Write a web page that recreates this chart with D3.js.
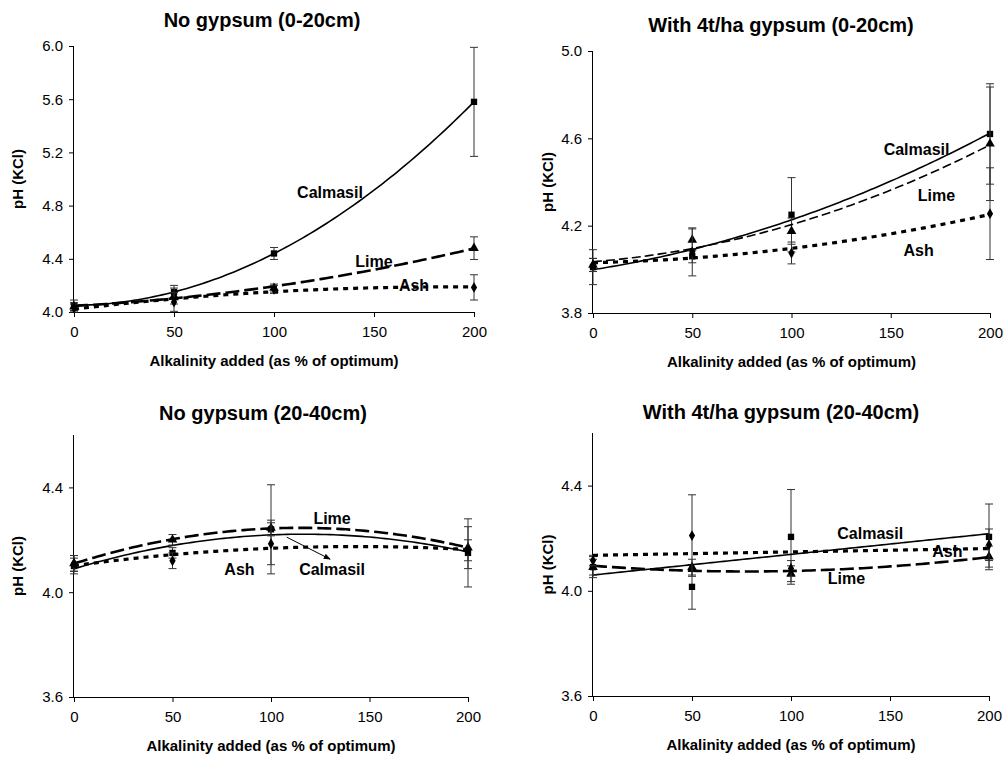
<!DOCTYPE html>
<html>
<head>
<meta charset="utf-8">
<script src="https://cdn.jsdelivr.net/npm/d3@7"></script>
<style>
  body { margin: 0; background: #fff; }
  svg { display: block; font-family: "Liberation Sans", Arial, sans-serif; }
  .tick text { font-size: 15px; fill: #000; }
  .title { font-size: 20px; font-weight: bold; }
  .axis-label { font-size: 15px; font-weight: bold; }
  .note { font-size: 16px; font-weight: bold; }
</style>
</head>
<body>
<svg id="chart"></svg>
<script>
const width = 1006;
const height = 760;

// x positions (alkalinity added, % of optimum)
const xVals = [0, 50, 100, 200];
const xTicks = [0, 50, 100, 150, 200];
const seriesNames = ["Calmasil", "Lime", "Ash"];

const titles = [
    "No gypsum (0-20cm)",
    "With 4t/ha gypsum (0-20cm)",
    "No gypsum (20-40cm)",
    "With 4t/ha gypsum (20-40cm)"
];

// panel 1: no gypsum, 0-20cm
const calmasil1 = [4.05, 4.15, 4.44, 5.58];
const calmasilErr1 = [0.04, 0.05, 0.045, 0.41];
const lime1 = [4.04, 4.12, 4.18, 4.48];
const limeErr1 = [0.03, 0.06, 0.03, 0.085];
const ash1 = [4.03, 4.075, 4.17, 4.185];
const ashErr1 = [0.03, 0.07, 0.03, 0.095];

// panel 2: 4t/ha gypsum, 0-20cm
const calmasil2 = [4.01, 4.06, 4.25, 4.62];
const calmasilErr2 = [0.08, 0.03, 0.17, 0.23];
const lime2 = [4.02, 4.135, 4.175, 4.575];
const limeErr2 = [0.03, 0.05, 0.06, 0.26];
const ash2 = [4.02, 4.08, 4.075, 4.255];
const ashErr2 = [0.03, 0.11, 0.05, 0.21];

// panel 3: no gypsum, 20-40cm
const calmasil3 = [4.10, 4.15, 4.24, 4.15];
const calmasilErr3 = [0.03, 0.02, 0.17, 0.13];
const lime3 = [4.11, 4.20, 4.245, 4.17];
const limeErr3 = [0.03, 0.02, 0.03, 0.08];
const ash3 = [4.11, 4.12, 4.185, 4.16];
const ashErr3 = [0.03, 0.03, 0.08, 0.04];

// panel 4: 4t/ha gypsum, 20-40cm
const calmasil4 = [4.09, 4.015, 4.205, 4.205];
const calmasilErr4 = [0.04, 0.085, 0.18, 0.125];
const lime4 = [4.09, 4.09, 4.065, 4.13];
const limeErr4 = [0.03, 0.03, 0.03, 0.04];
const ash4 = [4.115, 4.21, 4.085, 4.175];
const ashErr4 = [0.02, 0.155, 0.03, 0.06];

const yDomains = [[4.0, 6.0], [3.8, 5.0], [3.6, 4.6], [3.6, 4.6]];
const yTicks = [
    [4.0, 4.4, 4.8, 5.2, 5.6, 6.0],
    [3.8, 4.2, 4.6, 5.0],
    [3.6, 4.0, 4.4],
    [3.6, 4.0, 4.4]
];
// trend line order for Calmasil, Lime, Ash
const fitOrders = [[2, 2, 2], [2, 2, 2], [2, 2, 2], [1, 2, 1]];

// label positions, in data units: [series, x, y]
const notes = [
    [["Calmasil", 128, 4.9], ["Lime", 150, 4.38], ["Ash", 170, 4.2]],
    [["Calmasil", 163, 4.55], ["Lime", 173, 4.34], ["Ash", 164, 4.085]],
    [["Lime", 131, 4.28], ["Ash", 84, 4.088], ["Calmasil", 131, 4.088]],
    [["Calmasil", 140, 4.217], ["Ash", 179, 4.15], ["Lime", 128, 4.046]]
];

const panelData = [
    [calmasil1, lime1, ash1, calmasilErr1, limeErr1, ashErr1],
    [calmasil2, lime2, ash2, calmasilErr2, limeErr2, ashErr2],
    [calmasil3, lime3, ash3, calmasilErr3, limeErr3, ashErr3],
    [calmasil4, lime4, ash4, calmasilErr4, limeErr4, ashErr4]
];

// plot rectangles [left, right, top, bottom] and text anchors
const frames = [
    [74, 474, 46, 312],
    [593, 990, 51, 313],
    [74, 468, 435, 697],
    [593, 989, 433, 696]
];
const titleX = [262, 781, 263, 781];
const titleY = [27, 32, 420, 419];
const yLabelX = [18, 548, 18, 548];

const svg = d3.select("#chart")
    .attr("width", width)
    .attr("height", height);

svg.append("defs").append("marker")
    .attr("id", "arrow")
    .attr("viewBox", "0 0 10 10")
    .attr("refX", 9)
    .attr("refY", 5)
    .attr("markerWidth", 7)
    .attr("markerHeight", 7)
    .attr("orient", "auto")
    .append("path")
    .attr("d", "M0,1 L10,5 L0,9 Z")
    .attr("fill", "#000");

// least squares polynomial fit, returns coefficients c0..cn
function polyfit(xs, ys, order) {
    const n = order + 1;
    const A = d3.range(n).map(() => new Array(n + 1).fill(0));
    xs.forEach((x, k) => {
        for (let i = 0; i < n; i++) {
            for (let j = 0; j < n; j++) A[i][j] += Math.pow(x, i + j);
            A[i][n] += Math.pow(x, i) * ys[k];
        }
    });
    for (let i = 0; i < n; i++) {
        let p = i;
        for (let r = i + 1; r < n; r++) if (Math.abs(A[r][i]) > Math.abs(A[p][i])) p = r;
        [A[i], A[p]] = [A[p], A[i]];
        for (let r = 0; r < n; r++) {
            if (r === i) continue;
            const f = A[r][i] / A[i][i];
            for (let c = i; c <= n; c++) A[r][c] -= f * A[i][c];
        }
    }
    return d3.range(n).map(i => A[i][n] / A[i][i]);
}

const lineStyles = {
    Calmasil: { dash: null, width: 1.6 },
    Lime: { dash: "14,5", width: 2.6 },
    Ash: { dash: "5,5", width: 3.2 }
};

const symbols = {
    Calmasil: d3.symbol().type(d3.symbolSquare).size(40),
    Lime: d3.symbol().type(d3.symbolTriangle).size(40),
    Ash: d3.symbol().type(d3.symbolDiamond).size(34)
};

panelData.forEach((pd, p) => {
    const [left, right, top, bottom] = frames[p];
    const x = d3.scaleLinear().domain([0, 200]).range([left, right]);
    const y = d3.scaleLinear().domain(yDomains[p]).range([bottom, top]);
    const g = svg.append("g");

    g.append("text")
        .attr("class", "title")
        .attr("x", titleX[p])
        .attr("y", titleY[p])
        .attr("text-anchor", "middle")
        .text(titles[p]);

    g.append("g")
        .attr("transform", `translate(0,${bottom})`)
        .call(d3.axisBottom(x).tickValues(xTicks).tickSize(5).tickPadding(9))
        .call(a => a.select(".domain").attr("stroke", "#000"));

    g.append("g")
        .attr("transform", `translate(${left},0)`)
        .call(d3.axisLeft(y).tickValues(yTicks[p]).tickFormat(d3.format(".1f")).tickSize(5).tickPadding(6))
        .call(a => a.select(".domain").attr("d", `M-0.5,${top}V${bottom}`).attr("stroke", "#000"));

    g.append("text")
        .attr("class", "axis-label")
        .attr("x", (left + right) / 2)
        .attr("y", bottom + 54)
        .attr("text-anchor", "middle")
        .text("Alkalinity added (as % of optimum)");

    g.append("text")
        .attr("class", "axis-label")
        .attr("transform", `translate(${yLabelX[p] + 5},${(top + bottom) / 2}) rotate(-90)`)
        .attr("text-anchor", "middle")
        .text("pH (KCl)");

    seriesNames.forEach((name, s) => {
        const vals = pd[s];
        const errs = pd[s + 3];

        // error bars
        const eb = g.append("g").attr("stroke", "#333").attr("stroke-width", 1);
        xVals.forEach((xv, i) => {
            const cx = x(xv);
            eb.append("line").attr("x1", cx).attr("x2", cx)
                .attr("y1", y(vals[i] + errs[i])).attr("y2", y(vals[i] - errs[i]));
            [vals[i] + errs[i], vals[i] - errs[i]].forEach(v => {
                eb.append("line").attr("x1", cx - 4).attr("x2", cx + 4)
                    .attr("y1", y(v)).attr("y2", y(v));
            });
        });

        // trend line
        const coef = polyfit(xVals, vals, fitOrders[p][s]);
        const fx = xv => coef.reduce((acc, c, k) => acc + c * Math.pow(xv, k), 0);
        const thinLime = p === 1 && name === "Lime";
        g.append("path")
            .datum(d3.range(0, 200.5, 2))
            .attr("fill", "none")
            .attr("stroke", "#000")
            .attr("stroke-width", thinLime ? 1.6 : lineStyles[name].width)
            .attr("stroke-dasharray", thinLime ? "9,4" : lineStyles[name].dash)
            .attr("d", d3.line().x(d => x(d)).y(d => y(fx(d))));

        // markers
        g.selectAll(null)
            .data(xVals)
            .enter().append("path")
            .attr("transform", (d, i) => `translate(${x(d)},${y(vals[i])})`)
            .attr("d", symbols[name])
            .attr("fill", "#000");
    });

    notes[p].forEach(([label, nx, ny]) => {
        g.append("text")
            .attr("class", "note")
            .attr("x", x(nx))
            .attr("y", y(ny))
            .attr("text-anchor", "middle")
            .attr("dy", "0.35em")
            .text(label);
    });

    if (p === 2) {
        g.append("line")
            .attr("x1", x(108)).attr("y1", y(4.21))
            .attr("x2", x(130)).attr("y2", y(4.126))
            .attr("stroke", "#000")
            .attr("stroke-width", 1)
            .attr("marker-end", "url(#arrow)");
    }
});
</script>
</body>
</html>
